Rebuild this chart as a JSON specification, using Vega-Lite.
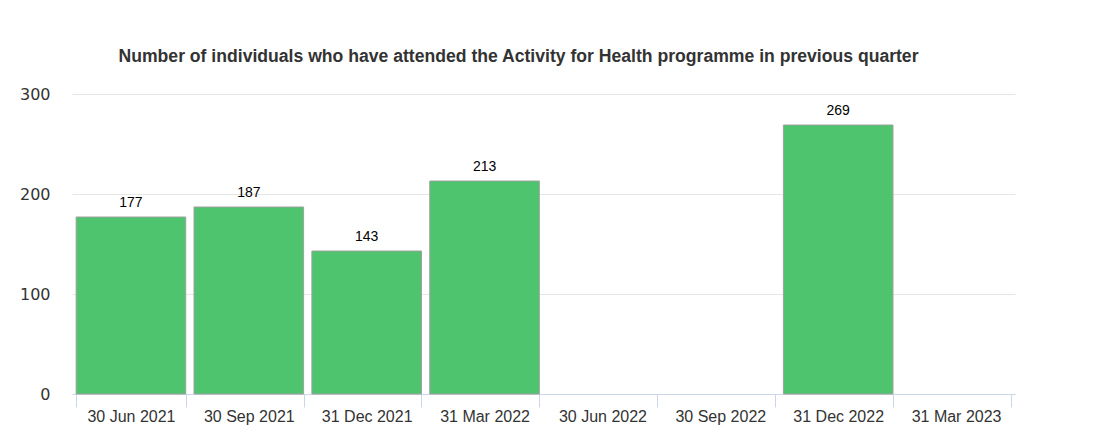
{
  "$schema": "https://vega.github.io/schema/vega-lite/v6.json",
  "autosize": "none",
  "width": 943,
  "height": 300,
  "padding": {"left": 72, "top": 94, "right": 86, "bottom": 40},
  "background": "white",
  "title": {
    "text": "Number of individuals who have attended the Activity for Health programme in previous quarter",
    "font": "Liberation Sans",
    "fontSize": 17.6,
    "fontWeight": "bold",
    "color": "#333333",
    "anchor": "middle",
    "frame": "group",
    "baseline": "alphabetic",
    "offset": 6,
    "dx": -25
  },
  "data": {
    "values": [
      {"quarter": "30 Jun 2021", "value": 177},
      {"quarter": "30 Sep 2021", "value": 187},
      {"quarter": "31 Dec 2021", "value": 143},
      {"quarter": "31 Mar 2022", "value": 213},
      {"quarter": "30 Jun 2022", "value": null},
      {"quarter": "30 Sep 2022", "value": null},
      {"quarter": "31 Dec 2022", "value": 269},
      {"quarter": "31 Mar 2023", "value": null}
    ]
  },
  "encoding": {
    "x": {
      "field": "quarter",
      "type": "nominal",
      "sort": null,
      "scale": {
        "domain": ["30 Jun 2021", "30 Sep 2021", "31 Dec 2021", "31 Mar 2022", "30 Jun 2022", "30 Sep 2022", "31 Dec 2022", "31 Mar 2023"],
        "paddingInner": 0.07,
        "paddingOuter": 0.035
      },
      "axis": {
        "title": null,
        "labelAngle": 0,
        "labelFont": "Liberation Sans",
        "labelFontSize": 16,
        "labelColor": "#333333",
        "labelPadding": 1,
        "domainColor": "#ccd6eb",
        "tickColor": "#ccd6eb",
        "tickSize": 13,
        "tickBand": "extent",
        "grid": false
      }
    },
    "y": {
      "field": "value",
      "type": "quantitative",
      "scale": {"domain": [0, 300], "nice": false},
      "axis": {
        "title": null,
        "values": [0, 100, 200, 300],
        "domain": false,
        "ticks": false,
        "labelPadding": 22,
        "labelFont": "DejaVu Sans",
        "labelFontSize": 16,
        "labelColor": "#333333",
        "gridColor": "#e6e6e6"
      }
    }
  },
  "layer": [
    {
      "mark": {"type": "bar", "fill": "#4dc46d", "stroke": "#a0a0a0", "strokeWidth": 1}
    },
    {
      "mark": {"type": "text", "baseline": "alphabetic", "dy": -10, "font": "Liberation Sans", "fontSize": 14, "color": "#000000"},
      "encoding": {"text": {"field": "value", "type": "quantitative"}}
    }
  ],
  "config": {"view": {"stroke": null}}
}
